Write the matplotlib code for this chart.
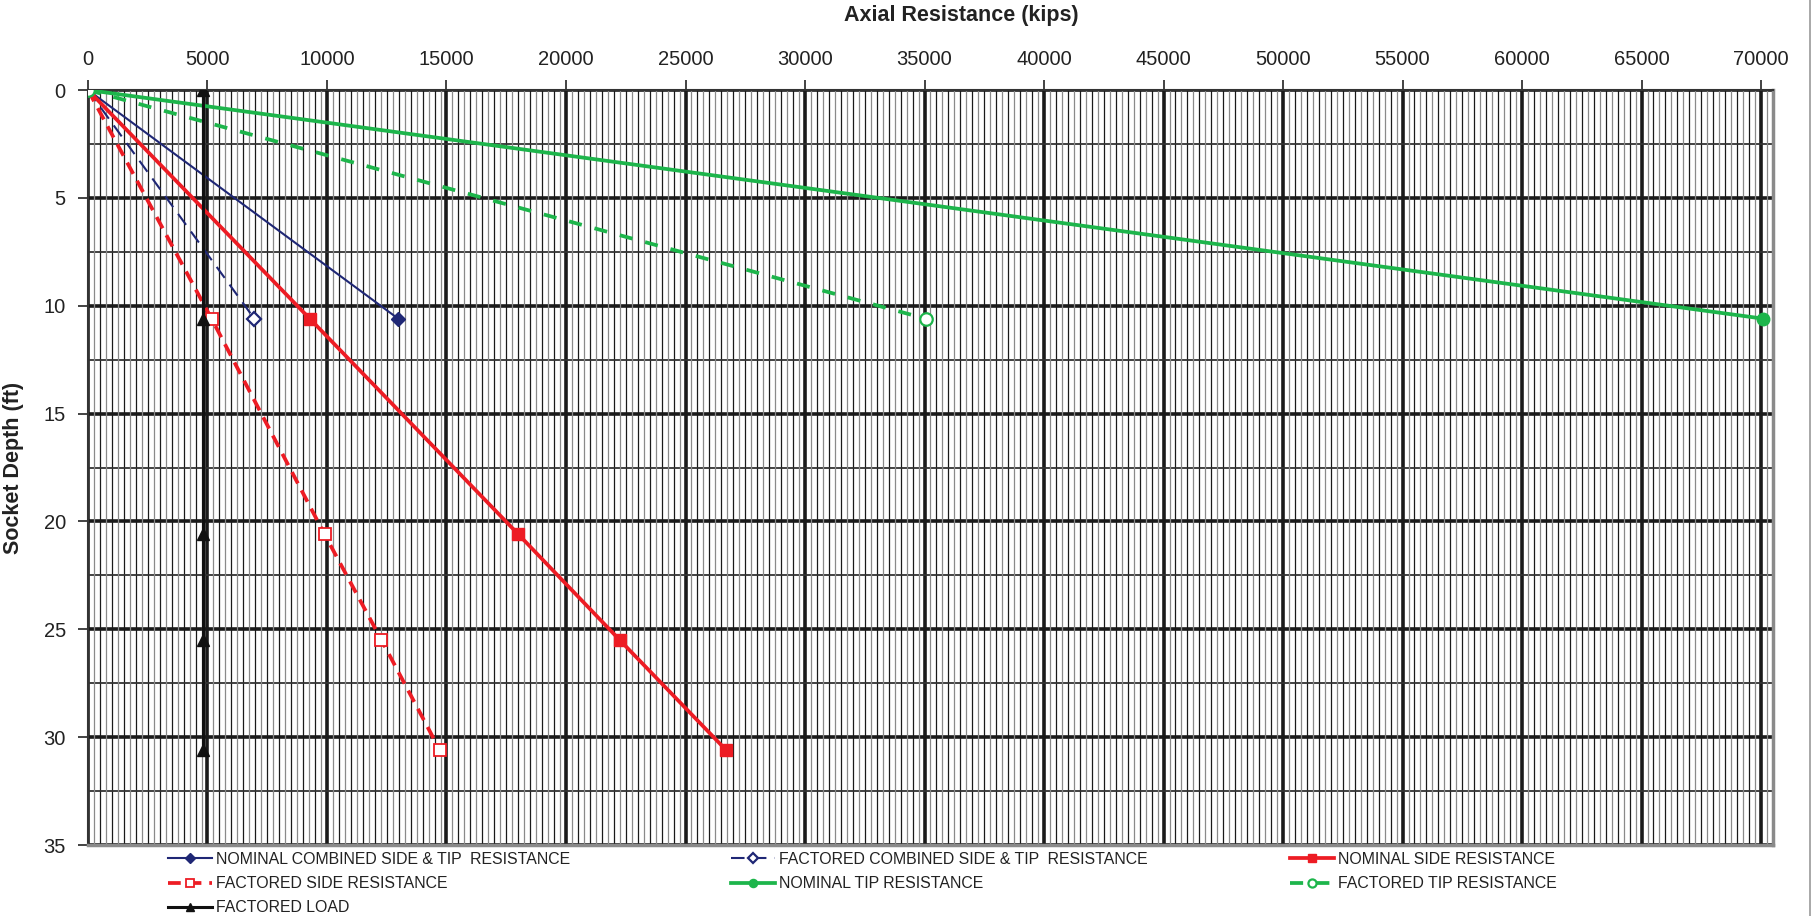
import numpy as np
import matplotlib.pyplot as plt
from matplotlib.ticker import MultipleLocator

plt.rcParams['font.family'] = ['Liberation Sans', 'DejaVu Sans']

# socket depth (ft) at each computed point
depth = [0, 10.6, 20.6, 25.5, 30.6]

nominal_combined = [0, 12980]
factored_combined = [0, 6960]
nominal_side = [0, 9280, 18010, 22250, 26700]
factored_side = [0, 5170, 9900, 12280, 14720]
nominal_tip = [0, 70100]
factored_tip = [0, 35050]
factored_load = [4800, 4800, 4800, 4800, 4800]

navy = '#1f2775'
red = '#ed1c24'
green = '#1db54b'


def make_plot():
    fig = plt.figure(figsize=(18.14, 9.16), dpi=100)
    ax = fig.add_axes([0.0485, 0.0775, 0.9289, 0.8242])

    # grid: major every 5000 kips / 5 ft, minor every 500 kips / 2.5 ft
    ax.set_xlim(0, 70500)
    ax.set_ylim(35, 0)
    ax.xaxis.set_major_locator(MultipleLocator(5000))
    ax.xaxis.set_minor_locator(MultipleLocator(500))
    ax.yaxis.set_major_locator(MultipleLocator(5))
    ax.yaxis.set_minor_locator(MultipleLocator(2.5))
    ax.grid(which='major', color='#1a1a1a', lw=2.6, zorder=1)
    ax.grid(which='minor', axis='x', color='#1a1a1a', lw=0.9, zorder=1)
    ax.grid(which='minor', axis='y', color='#333333', lw=1.3, zorder=1)
    for xv in np.arange(250, 70500, 500):
        ax.axvline(xv, color='#8a8a8a', lw=0.9, zorder=0.9)
    ax.set_axisbelow(True)

    ax.xaxis.tick_top()
    ax.tick_params(which='major', length=7, width=1.2, color='#222222',
                   labelsize=14.5, pad=8, labelcolor='#222222')
    ax.tick_params(which='minor', length=0)
    ax.tick_params(axis='y', pad=9)
    ax.set_xticks(np.arange(0, 70001, 5000))
    ax.set_yticks(np.arange(0, 36, 5))

    for s in ['top', 'left']:
        ax.spines[s].set_color('#333333')
        ax.spines[s].set_linewidth(1.5)
    for s in ['bottom', 'right']:
        ax.spines[s].set_color('#8a8a8a')
        ax.spines[s].set_linewidth(2.5)

    fig.text(961 / 1814, 1 - 16 / 916, 'Axial Resistance (kips)', ha='center',
             va='center', fontsize=15.5, fontweight='bold', color='#222222')
    ax.set_ylabel('Socket Depth (ft)', fontsize=15.5, fontweight='bold',
                  color='#222222', labelpad=14)

    h = {}
    h['nc'], = ax.plot(nominal_combined, depth[:2], color=navy, lw=1.5,
                       marker='D', ms=7.5, mfc=navy, mec=navy, zorder=5)
    h['fc'], = ax.plot(factored_combined, depth[:2], color=navy, lw=1.5,
                       dashes=(6.5, 4), marker='D', ms=7.5, mfc='white',
                       mec=navy, mew=1.6, zorder=5)
    h['ns'], = ax.plot(nominal_side, depth, color=red, lw=2.7, marker='s',
                       ms=8.5, mfc=red, mec=red, zorder=5)
    h['fs'], = ax.plot(factored_side, depth, color=red, lw=2.7,
                       dashes=(3.4, 2.1), marker='s', ms=8.5, mfc='white',
                       mec=red, mew=1.3, zorder=5)
    h['nt'], = ax.plot(nominal_tip, depth[:2], color=green, lw=2.7, marker='o',
                       ms=9, mfc=green, mec=green, zorder=5)
    h['ft'], = ax.plot(factored_tip, depth[:2], color=green, lw=2.7,
                       dashes=(3.5, 3.5), marker='o', ms=9, mfc='white',
                       mec=green, mew=1.6, zorder=5)
    h['fl'], = ax.plot(factored_load, depth, color='#111111', lw=2.2,
                       marker='^', ms=9, mfc='#111111', mec='#111111', zorder=6)

    labels = {
        'nc': 'NOMINAL COMBINED SIDE & TIP  RESISTANCE',
        'fc': 'FACTORED COMBINED SIDE & TIP  RESISTANCE',
        'ns': 'NOMINAL SIDE RESISTANCE',
        'fs': 'FACTORED SIDE RESISTANCE',
        'nt': 'NOMINAL TIP RESISTANCE',
        'ft': 'FACTORED TIP RESISTANCE',
        'fl': 'FACTORED LOAD',
    }
    # legend laid out as three separate columns under the plot
    columns = [(['nc', 'fs', 'fl'], 168), (['fc', 'nt'], 731), (['ns', 'ft'], 1290)]
    for keys, xpix in columns:
        leg = fig.legend([h[k] for k in keys], [labels[k] for k in keys],
                         loc='upper left', bbox_to_anchor=(xpix / 1814, 1 - 852 / 916),
                         frameon=False, handlelength=2.75, handletextpad=0.3,
                         labelspacing=0.58, borderaxespad=0, borderpad=0,
                         markerscale=0.65, prop={'size': 11.4})
        for t in leg.get_texts():
            t.set_color('#222222')

    fig.add_artist(plt.Line2D([1810 / 1814] * 2, [0, 1], color='#999999', lw=1.2))

    fig.savefig('out.png', dpi=100)


if __name__ == '__main__':
    make_plot()
